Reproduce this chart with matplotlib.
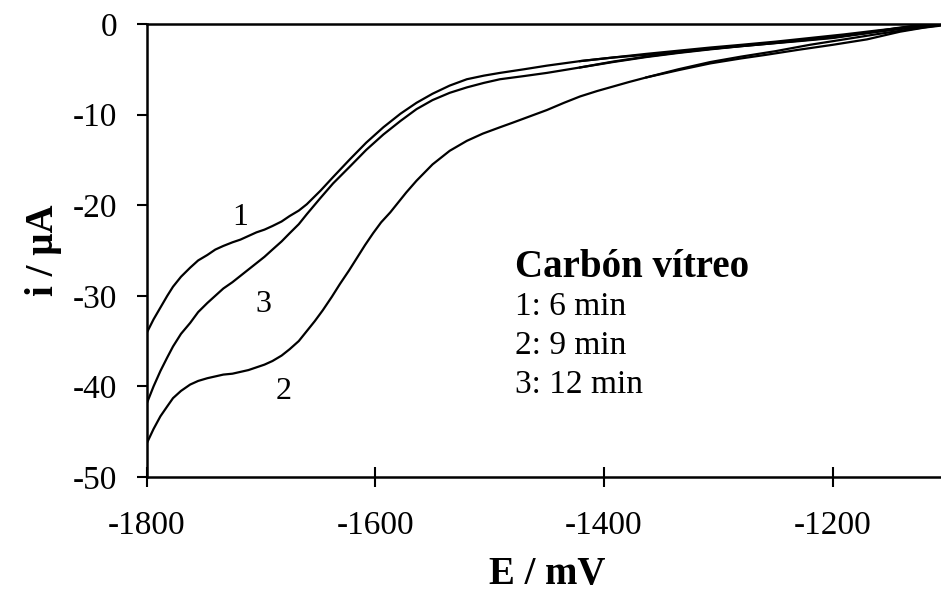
import matplotlib.pyplot as plt
import numpy as np

plt.rcParams['font.family'] = ['Liberation Serif', 'DejaVu Serif']
plt.rcParams['axes.unicode_minus'] = False

# voltammograms (E in mV, i in uA)
E_13 = [-1800, -1794, -1788, -1782, -1777, -1770, -1762, -1755, -1747, -1740,
        -1733, -1725, -1718, -1711, -1704, -1697, -1690, -1682, -1675, -1667,
        -1660, -1648, -1637, -1622, -1608, -1593, -1578, -1564, -1550, -1535,
        -1520, -1505, -1491, -1470, -1450, -1421, -1392, -1363, -1335, -1307,
        -1280, -1258, -1230, -1200, -1172, -1144, -1125, -1106]
i_1 = [-34.1, -32.6, -31.3, -30.0, -29.0, -27.9, -26.9, -26.1, -25.5, -24.9,
       -24.5, -24.1, -23.8, -23.4, -23.0, -22.7, -22.3, -21.8, -21.2, -20.6,
       -19.9, -18.4, -16.9, -14.9, -13.1, -11.4, -9.9, -8.7, -7.7, -6.8,
       -6.1, -5.7, -5.4, -5.0, -4.6, -4.1, -3.7, -3.4, -3.05, -2.75,
       -2.45, -2.2, -1.85, -1.5, -1.0, -0.45, -0.15, 0.0]
i_3 = [-41.9, -40.0, -38.3, -36.8, -35.6, -34.2, -33.0, -31.8, -30.8, -30.0,
       -29.2, -28.5, -27.8, -27.1, -26.4, -25.7, -24.9, -24.0, -23.1, -22.1,
       -21.0, -19.2, -17.6, -15.7, -13.9, -12.2, -10.7, -9.4, -8.4, -7.6,
       -7.0, -6.5, -6.1, -5.75, -5.4, -4.8, -4.2, -3.65, -3.2, -2.8,
       -2.45, -2.2, -1.9, -1.55, -1.05, -0.5, -0.15, 0.0]

E_2 = [-1800, -1794, -1788, -1782, -1777, -1770, -1762, -1755, -1747, -1740,
       -1733, -1725, -1718, -1711, -1704, -1697, -1690, -1682, -1675, -1667,
       -1660, -1653, -1646, -1638, -1631, -1623, -1616, -1609, -1602, -1595,
       -1587, -1580, -1573, -1564, -1550, -1535, -1520, -1506, -1491, -1480,
       -1465, -1450, -1435, -1421, -1406, -1392, -1378, -1363, -1335, -1307,
       -1280, -1258, -1230, -1200, -1170, -1141, -1120, -1100]
i_2 = [-46.3, -44.7, -43.3, -42.2, -41.3, -40.5, -39.8, -39.4, -39.1, -38.9,
       -38.7, -38.6, -38.4, -38.2, -37.9, -37.6, -37.2, -36.6, -35.9, -35.0,
       -33.9, -32.8, -31.6, -30.1, -28.7, -27.2, -25.8, -24.4, -23.1, -21.9,
       -20.8, -19.7, -18.6, -17.3, -15.5, -14.0, -12.9, -12.1, -11.4, -10.9,
       -10.2, -9.5, -8.7, -8.0, -7.4, -6.9, -6.4, -5.9, -5.1, -4.35,
       -3.8, -3.4, -2.85, -2.3, -1.7, -0.85, -0.4, -0.1]

# return sweeps split off slightly near the anodic end
E_ret = [-1421, -1392, -1363, -1335, -1307, -1280, -1250, -1220, -1190, -1160,
         -1130, -1110, -1100]
i_1_ret = [-4.1, -3.7, -3.3, -2.95, -2.6, -2.3, -1.95, -1.55, -1.15, -0.7,
           -0.3, -0.05, 0.0]
i_3_ret = [-4.8, -4.15, -3.6, -3.15, -2.75, -2.4, -2.05, -1.7, -1.3, -0.85,
           -0.4, -0.1, 0.0]
E_2_ret = [-1363, -1335, -1307, -1280, -1250, -1220, -1190, -1160, -1130, -1110, -1100]
i_2_ret = [-5.9, -5.0, -4.2, -3.6, -3.0, -2.3, -1.7, -1.1, -0.55, -0.2, 0.0]

labels_xy = {'1': (-1718, -21.4), '3': (-1698, -31.0), '2': (-1680, -40.6)}
legend_title = 'Carbón vítreo'
legend_lines = ['1: 6 min', '2: 9 min', '3: 12 min']

fig = plt.figure(figsize=(9.41, 5.92), dpi=100)
ax = fig.add_axes([0.1559, 0.1943, 0.8505, 0.7652])

kw = dict(color='black', lw=1.6)
ax.plot(E_13, i_1, **kw)
ax.plot(E_13, i_3, **kw)
ax.plot(E_2, i_2, **kw)
ax.plot(E_ret, i_1_ret, **kw)
ax.plot(E_ret, i_3_ret, **kw)
ax.plot(E_2_ret, i_2_ret, **kw)

ax.set_xlim(-1800, -1100)
ax.set_ylim(-50, 0)
ax.set_xticks([-1800, -1600, -1400, -1200])
ax.set_yticks(np.arange(-50, 1, 10))
ax.tick_params(axis='y', direction='out', length=7, width=1.5, labelsize=24, pad=14)
ax.tick_params(axis='x', direction='inout', length=14, width=1.5, labelsize=24, pad=17)
for s in ['left', 'bottom', 'top']:
    ax.spines[s].set_linewidth(1.8)
ax.spines['right'].set_visible(False)

ax.set_xlabel('E / mV', fontsize=28, fontweight='bold', labelpad=11)
ax.set_ylabel('i / µA', fontsize=28, fontweight='bold', labelpad=8)

for k, (x, y) in labels_xy.items():
    ax.text(x, y, k, fontsize=23, ha='center', va='center')

ax.text(-1478, -26.9, legend_title, fontsize=28, fontweight='bold', va='center')
for n, t in enumerate(legend_lines):
    ax.text(-1478, -31.2 - 4.3 * n, t, fontsize=24, va='center')

fig.savefig('out.png', dpi=100)
